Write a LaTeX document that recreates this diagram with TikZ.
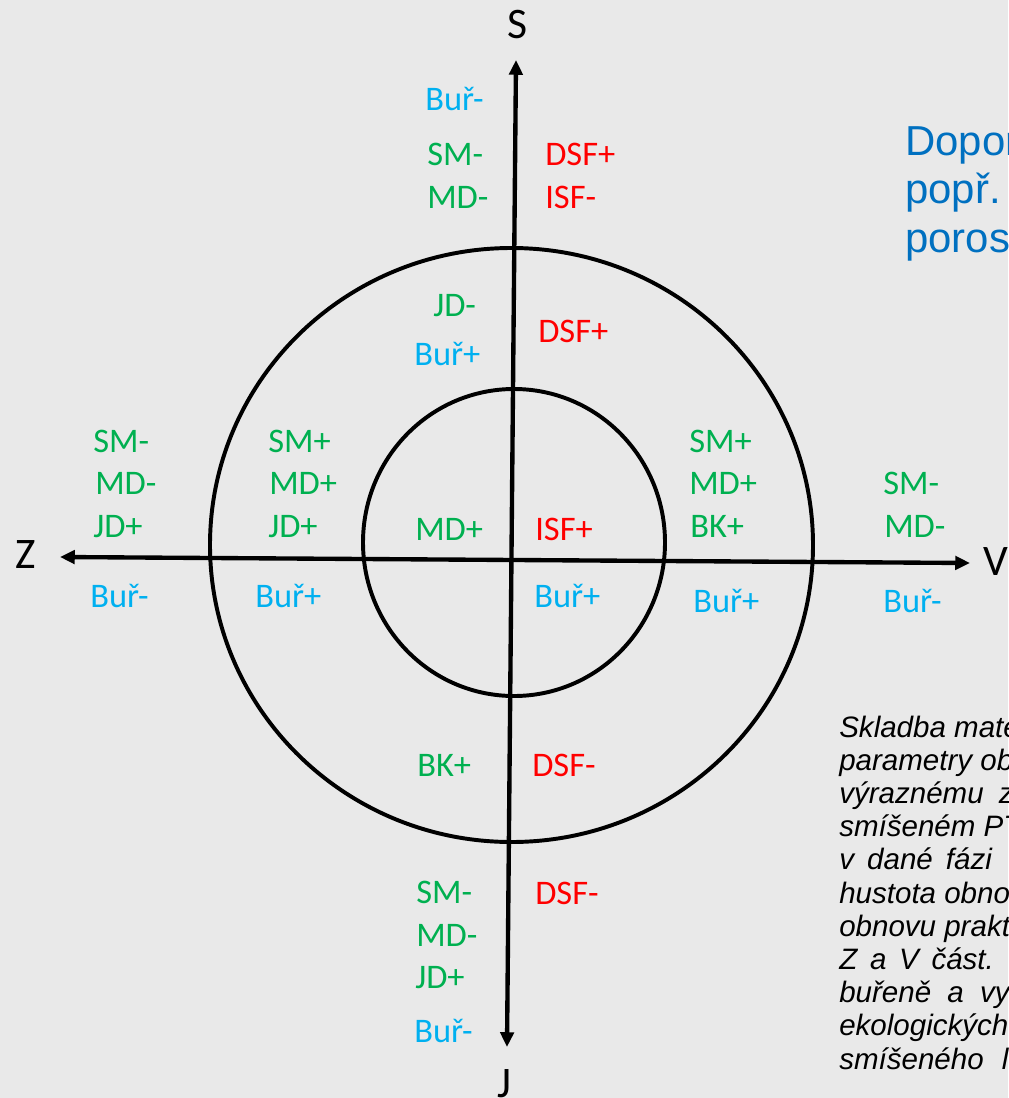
\documentclass[tikz,border=0pt]{standalone}
\usepackage{fontspec}
\setmainfont{Carlito}
\newfontfamily\arialfont{Liberation Sans}
\usetikzlibrary{arrows.meta}
\definecolor{bgGrey}{RGB}{233,233,233}
\definecolor{plusGreen}{RGB}{0,176,80}
\definecolor{sfRed}{RGB}{255,0,0}
\definecolor{burCyan}{RGB}{0,176,240}
\definecolor{noteBlue}{RGB}{0,112,192}

\begin{document}
\begin{tikzpicture}[x=0.025cm,y=-0.025cm,
    ring/.style={line width=2.8pt},
    axis/.style={line width=3.1pt,{Triangle[length=10.5pt,width=9.5pt]}-{Triangle[length=10.5pt,width=9.5pt]}},
    lbl/.style={anchor=base west,inner sep=0pt,font=\fontsize{24.5}{29}\selectfont},
    grn/.style={lbl,text=plusGreen},
    red/.style={lbl,text=sfRed},
    bur/.style={lbl,text=burCyan},
    dir/.style={anchor=base,inner sep=0pt,font=\fontsize{31}{36}\selectfont}]
    \fill[bgGrey] (0,0) rectangle (1008,1098);
    \useasboundingbox (0,0) rectangle (1008,1098);
    % kruhy
    \draw[ring] (511.5,545) ellipse[x radius=301.5,y radius=297];
    \draw[ring] (514,542.5) ellipse[x radius=151,y radius=153.5];
    % osy
    \path
      coordinate (tipS) at (516,60)
      coordinate (tipJ) at (507,1047)
      coordinate (tipZ) at (60,557)
      coordinate (tipV) at (970,563);
    \draw[axis] (tipJ) -- (tipS);
    \draw[axis] (tipZ) -- (tipV);
    \node[dir] (dS) at (518,38) {S};
    \node[dir] (dJ) at (504,1097) {J};
    \node[dir] (dZ) at (26,568) {Z};
    \node[dir] (dV) at (996,575) {V};
    % sever
    \node[bur] (burN) at (425,110) {Buř-};
    \node[grn] (smN) at (427,165) {SM-};
    \node[grn] (mdN) at (427,208) {MD-};
    \node[red] (dsfN) at (545,165) {DSF+};
    \node[red] (isfN) at (545,208) {ISF-};
    \node[grn] (jdNr) at (433,316) {JD-};
    \node[bur] (burNr) at (414,365) {Buř+};
    \node[red] (dsfNr) at (538,342) {DSF+};
    % zapad
    \node[grn] (smZ) at (93,452) {SM-};
    \node[grn] (mdZ) at (95,494) {MD-};
    \node[grn] (jdZ) at (93,537) {JD+};
    \node[bur] (burZ) at (90,607) {Buř-};
    \node[grn] (smZr) at (268,452) {SM+};
    \node[grn] (mdZr) at (269,494) {MD+};
    \node[grn] (jdZr) at (268,537) {JD+};
    \node[bur] (burZr) at (255,607) {Buř+};
    % stred
    \node[grn] (mdC) at (415,540) {MD+};
    \node[red] (isfC) at (535,540) {ISF+};
    \node[bur] (burC) at (534,607) {Buř+};
    % vychod
    \node[grn] (smVr) at (689,452) {SM+};
    \node[grn] (mdVr) at (689,494) {MD+};
    \node[grn] (bkVr) at (690,537) {BK+};
    \node[bur] (burVr) at (693,612) {Buř+};
    \node[grn] (smV) at (883,494) {SM-};
    \node[grn] (mdV) at (884,537) {MD-};
    \node[bur] (burV) at (883,612) {Buř-};
    % jih
    \node[grn] (bkJr) at (417,776) {BK+};
    \node[red] (dsfJr) at (532,776) {DSF-};
    \node[grn] (smJ) at (416,903) {SM-};
    \node[grn] (mdJ) at (416,946) {MD-};
    \node[grn] (jdJ) at (415,988) {JD+};
    \node[bur] (burJ) at (414,1042) {Buř-};
    \node[red] (dsfJ) at (535,904) {DSF-};
    % texty vpravo (base = posledni radek)
    \node[anchor=base west,inner sep=0pt,align=left,text=noteBlue,
      font=\arialfont\fontsize{29.8}{34.4}\selectfont] (note) at (905,252)
      {Dopor\\popř.\\poros};
    \node[anchor=base west,inner sep=0pt,align=left,
      font=\arialfont\itshape\fontsize{21}{23.6}\selectfont] (para) at (839,1069)
      {Skladba mate\\
       parametry ob\\
       výraznému\hspace{5pt} z\\
       smíšeném PT\\
       v\hspace{3.5pt} dané\hspace{3.5pt} fázi\\
       hustota obno\\
       obnovu prakt\\
       Z\hspace{3.2pt} a\hspace{3.2pt} V\hspace{3.2pt} část.\\
       buřeně\hspace{5.7pt} a\hspace{5.7pt} vy\\
       ekologických\\
       smíšeného\hspace{7pt} l};
\end{tikzpicture}
\end{document}
